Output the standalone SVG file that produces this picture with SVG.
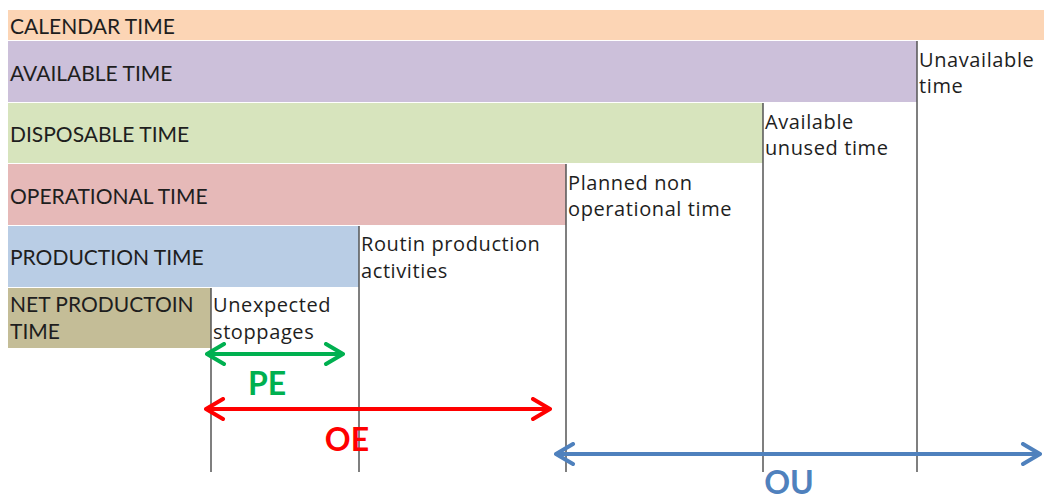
<svg xmlns="http://www.w3.org/2000/svg" width="1044" height="499" viewBox="0 0 1044 499">
  <style>
    .lbl { font-family: Lato, "Open Sans", sans-serif; font-size: 21px; fill: #1e1e1e; }
    .note { font-family: "Open Sans", Lato, sans-serif; font-size: 20px; letter-spacing: 0.6px; fill: #1e1e1e; }
    .big { font-family: Lato, "Open Sans", sans-serif; font-size: 32px; font-weight: bold; text-anchor: middle; }
    .div { stroke: #555; stroke-width: 1.5; fill: none; }
    .arr { stroke-width: 4; fill: none; }
  </style>
  <defs>
    <marker id="hg" viewBox="-20 -12 22 24" markerWidth="22" markerHeight="24" refX="0" refY="0" orient="auto-start-reverse" markerUnits="userSpaceOnUse">
      <polyline points="-17,-10 0,0 -17,10" fill="none" stroke="#00B050" stroke-width="4" stroke-linecap="round" stroke-linejoin="round"/>
    </marker>
    <marker id="hr" viewBox="-20 -12 22 24" markerWidth="22" markerHeight="24" refX="0" refY="0" orient="auto-start-reverse" markerUnits="userSpaceOnUse">
      <polyline points="-17,-10 0,0 -17,10" fill="none" stroke="#FF0000" stroke-width="4" stroke-linecap="round" stroke-linejoin="round"/>
    </marker>
    <marker id="hb" viewBox="-20 -12 22 24" markerWidth="22" markerHeight="24" refX="0" refY="0" orient="auto-start-reverse" markerUnits="userSpaceOnUse">
      <polyline points="-17,-10 0,0 -17,10" fill="none" stroke="#4F81BD" stroke-width="4" stroke-linecap="round" stroke-linejoin="round"/>
    </marker>
  </defs>
  <rect width="1044" height="499" fill="#ffffff"/>

  <!-- time bars -->
  <g id="calendar">
    <rect x="8" y="10" width="1036" height="30" fill="#FCD5B5"/>
    <text class="lbl" x="10" y="34">CALENDAR TIME</text>
  </g>
  <g id="available">
    <rect x="8" y="41" width="909" height="61" fill="#CCC0DA"/>
    <text class="lbl" x="10" y="81">AVAILABLE TIME</text>
  </g>
  <g id="disposable">
    <rect x="8" y="103" width="755" height="60" fill="#D7E4BD"/>
    <text class="lbl" x="10" y="142">DISPOSABLE TIME</text>
  </g>
  <g id="operational">
    <rect x="8" y="164" width="558" height="61" fill="#E6B9B8"/>
    <text class="lbl" x="10" y="204">OPERATIONAL TIME</text>
  </g>
  <g id="production">
    <rect x="8" y="226" width="351" height="61" fill="#B9CDE5"/>
    <text class="lbl" x="10" y="265">PRODUCTION TIME</text>
  </g>
  <g id="net-production">
    <rect x="8" y="288" width="203" height="60" fill="#C4BD97"/>
    <text class="lbl" x="10" y="312">NET PRODUCTOIN</text>
    <text class="lbl" x="10" y="339">TIME</text>
  </g>

  <!-- loss labels -->
  <g id="unavailable">
    <text class="note" x="919" y="67">Unavailable</text>
    <text class="note" x="919" y="93">time</text>
  </g>
  <g id="unused">
    <text class="note" x="765" y="129">Available</text>
    <text class="note" x="765" y="155">unused time</text>
  </g>
  <g id="planned">
    <text class="note" x="568" y="190">Planned non</text>
    <text class="note" x="568" y="216">operational time</text>
  </g>
  <g id="routine">
    <text class="note" x="361" y="251">Routin production</text>
    <text class="note" x="361" y="278">activities</text>
  </g>
  <g id="stoppages">
    <text class="note" x="213" y="312">Unexpected</text>
    <text class="note" x="213" y="339">stoppages</text>
  </g>

  <!-- boundary lines and efficiency spans -->
  <g id="connectors">
    <line class="div" x1="211" y1="288" x2="211" y2="472"/>
    <line class="div" x1="359" y1="226" x2="359" y2="472"/>
    <line class="div" x1="566" y1="164" x2="566" y2="472"/>
    <line class="div" x1="763" y1="103" x2="763" y2="472"/>
    <line class="div" x1="917" y1="41" x2="917" y2="472"/>

    <line class="arr" x1="207" y1="354" x2="343" y2="354" stroke="#00B050" marker-start="url(#hg)" marker-end="url(#hg)"/>
    <line class="arr" x1="206" y1="409" x2="550" y2="409" stroke="#FF0000" marker-start="url(#hr)" marker-end="url(#hr)"/>
    <line class="arr" x1="556" y1="454" x2="1040" y2="454" stroke="#4F81BD" marker-start="url(#hb)" marker-end="url(#hb)"/>
  </g>

  <g id="pe"><text class="big" x="267" y="395" fill="#00B050">PE</text></g>
  <g id="oe"><text class="big" x="347" y="451" fill="#FF0000">OE</text></g>
  <g id="ou"><text class="big" x="789" y="494" fill="#4F81BD">OU</text></g>
</svg>
